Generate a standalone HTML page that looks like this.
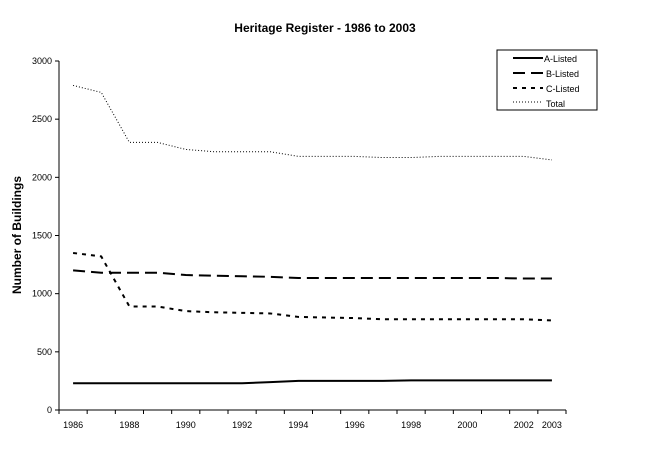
<!DOCTYPE html>
<html><head><meta charset="utf-8"><style>body{margin:0;background:#fff}svg{font-family:"Liberation Sans",Arial,sans-serif}</style></head>
<body>
<svg id="c" width="651" height="445">
<text x="325" y="32" text-anchor="middle" font-size="12" font-weight="bold">Heritage Register - 1986 to 2003</text>
<text transform="translate(21,235) rotate(-90)" text-anchor="middle" font-size="12" font-weight="bold">Number of Buildings</text>
<g id="axes"></g><g id="series"></g>
<g>
<rect x="497" y="50" width="100" height="60" fill="#fff" stroke="#000"/>
<line x1="513" y1="58" x2="543" y2="58" stroke="#000" stroke-width="2"/><text x="544" y="62" font-size="9">A-Listed</text>
<line x1="513" y1="73" x2="543" y2="73" stroke="#000" stroke-width="2" stroke-dasharray="12,6"/><text x="546" y="77" font-size="9">B-Listed</text>
<line x1="513" y1="88" x2="543" y2="88" stroke="#000" stroke-width="2" stroke-dasharray="4,5"/><text x="546" y="92" font-size="9">C-Listed</text>
<line x1="513" y1="102" x2="543" y2="102" stroke="#000" stroke-width="1" stroke-dasharray="1,2"/><text x="546" y="107" font-size="9">Total</text>
</g>
</svg>
<script>
const years=[1986,1987,1988,1989,1990,1991,1992,1993,1994,1995,1996,1997,1998,1999,2000,2001,2002,2003];
const shownLabels=["1986","","1988","","1990","","1992","","1994","","1996","","1998","","2000","","2002","2003"];
const yTicks=[0,500,1000,1500,2000,2500,3000];
const aListed=[230,230,230,230,230,230,230,240,250,250,250,250,255,255,255,255,255,255];
const bListed=[1200,1180,1180,1180,1160,1155,1150,1145,1135,1135,1135,1135,1135,1135,1135,1135,1130,1130];
const cListed=[1350,1320,890,890,850,840,835,830,800,795,790,780,780,780,780,780,780,770];
const total=[2790,2730,2300,2300,2240,2220,2220,2220,2180,2180,2180,2170,2170,2180,2180,2180,2180,2150];
const NS="http://www.w3.org/2000/svg";
const x0=59,x1=566,y0=410,yTop=61;
const step=(x1-x0)/years.length;
const X=i=>x0+step*(i+0.5);
const Y=v=>y0-(v/3000)*(y0-yTop);
function mk(t,a,p){const e=document.createElementNS(NS,t);for(const k in a)e.setAttribute(k,a[k]);(p||document.getElementById('axes')).appendChild(e);return e;}
const ax=document.getElementById('axes');
let e=mk('line',{x1:x0,y1:yTop,x2:x0,y2:y0,stroke:'#000'});


e=mk('line',{x1:x0,y1:y0,x2:x1,y2:y0,stroke:'#000'});


yTicks.forEach(v=>{mk('line',{x1:x0-4,y1:Y(v),x2:x0,y2:Y(v),stroke:'#000'});
 const t=mk('text',{x:x0-7,y:Y(v)+3,'text-anchor':'end','font-size':'9'});t.textContent=v;
 
 });
for(let i=0;i<=years.length;i++)mk('line',{x1:x0+step*i,y1:y0,x2:x0+step*i,y2:y0+4,stroke:'#000'});
years.forEach((y,i)=>{if(!shownLabels[i])return;const t=mk('text',{x:X(i),y:y0+18,'text-anchor':'middle','font-size':'9'});t.textContent=shownLabels[i];
 
 });
const sg=document.getElementById('series');
function line(data,dash,w,name){const p=mk('polyline',{points:data.map((v,i)=>X(i)+','+Y(v)).join(' '),fill:'none',stroke:'#000','stroke-width':w,'stroke-dasharray':dash},sg);
 
 }
line(aListed,'none',2,'series-a-listed');
line(bListed,'12,6',2,'series-b-listed');
line(cListed,'4,5',2,'series-c-listed');
line(total,'1,2',1,'series-total');
</script>
</body></html>
